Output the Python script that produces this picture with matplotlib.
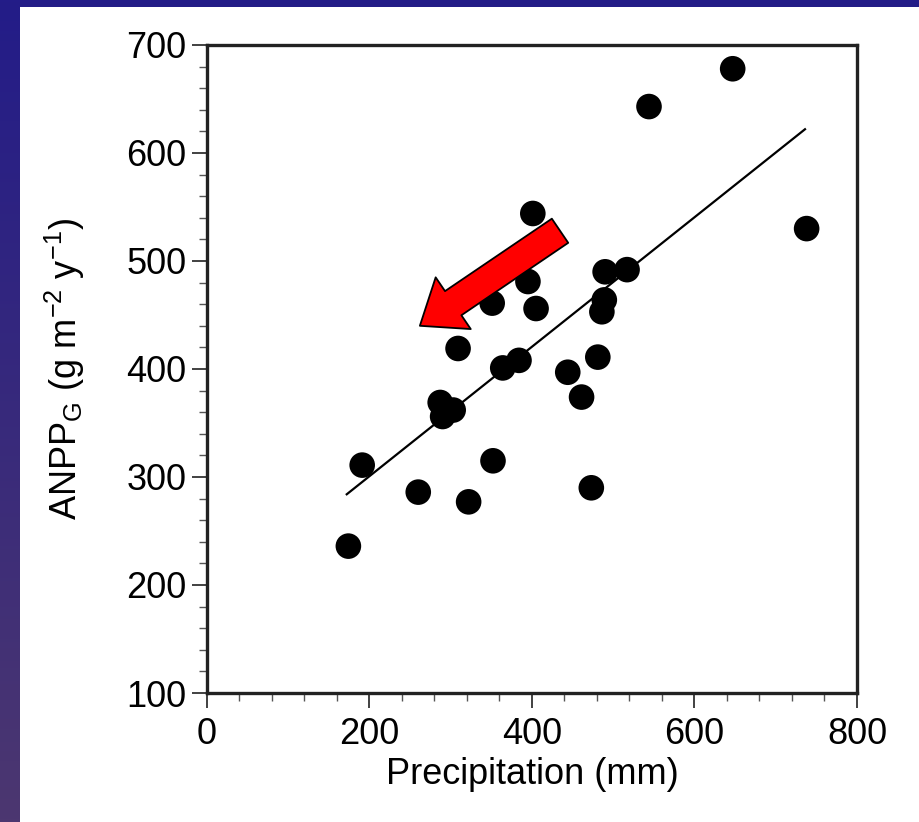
import numpy as np
import matplotlib
matplotlib.use("Agg")
import matplotlib.pyplot as plt
from matplotlib.patches import Rectangle
from matplotlib.ticker import MultipleLocator

plt.rcParams['font.family'] = ['Liberation Sans', 'DejaVu Sans']
plt.rcParams['mathtext.fontset'] = 'custom'
plt.rcParams['mathtext.rm'] = 'Liberation Sans'

# Data
precip = [174, 191, 260, 287, 303, 290, 309, 322, 348, 351, 352, 364, 384, 395,
          401, 405, 444, 461, 473, 481, 486, 489, 490, 517, 544, 647, 738]
anpp = [236, 311, 286, 369, 362, 356, 419, 277, 486, 461, 315, 401, 408, 481,
        544, 456, 397, 374, 290, 411, 453, 464, 490, 492, 643, 678, 530]
fit_x = [172, 736]
fit_y = [284, 622]
arrow_tip = (262, 440)
arrow_tail = (434.5, 528)
xticks = [0, 200, 400, 600, 800]
yticks = [100, 200, 300, 400, 500, 600, 700]

fig = plt.figure(figsize=(9.2, 8.22), dpi=100)

# background gradient band (left and top)
bg = fig.add_axes([0, 0, 1, 1], zorder=-10)
top_c = np.array([0x23, 0x1c, 0x88]) / 255
bot_c = np.array([0x4c, 0x37, 0x70]) / 255
t = np.linspace(0, 1, 256)[:, None]
grad = top_c[None, :] * (1 - t) + bot_c[None, :] * t
bg.imshow(grad[:, None, :], aspect='auto', extent=[0, 1, 0, 1], origin='upper')
bg.add_patch(Rectangle((20 / 920, 0), 1, 1 - 7 / 822, transform=bg.transAxes,
                       facecolor='white', edgecolor='none'))
bg.set_xlim(0, 1)
bg.set_ylim(0, 1)
bg.axis('off')

ax = fig.add_axes([207 / 920, 129 / 822, 650 / 920, 648 / 822])
ax.set_facecolor('white')
ax.scatter(precip, anpp, s=340, color='black', zorder=3, edgecolors='none')
ax.plot(fit_x, fit_y, color='black', lw=1.6, zorder=2)

ax.set_xlim(0, 800)
ax.set_ylim(100, 700)
ax.set_xticks(xticks)
ax.set_yticks(yticks)
ax.xaxis.set_minor_locator(MultipleLocator(40))
ax.yaxis.set_minor_locator(MultipleLocator(20))
ax.tick_params(which='major', direction='out', length=11, width=1.3, labelsize=26,
               pad=4, color='#333333')
ax.tick_params(which='minor', direction='out', length=5.5, width=1.0, color='#555555')
ax.tick_params(axis='x', which='major', pad=6)
for s in ax.spines.values():
    s.set_linewidth(2.4)
    s.set_color('#222222')

ax.set_xlabel('Precipitation (mm)', fontsize=26, labelpad=4)
ax.set_ylabel(r'ANPP$_\mathregular{G}$ (g m$^\mathregular{-2}$ y$^\mathregular{-1}$)',
              fontsize=26, labelpad=28)

ax.annotate('', xy=arrow_tip, xytext=arrow_tail, xycoords='data', textcoords='data',
            arrowprops=dict(arrowstyle='simple,head_length=29,head_width=45,tail_width=21',
                            mutation_scale=1, facecolor='#ff0000', edgecolor='black',
                            lw=1.3, shrinkA=0, shrinkB=0),
            zorder=5)

fig.savefig('out.png', dpi=100)
